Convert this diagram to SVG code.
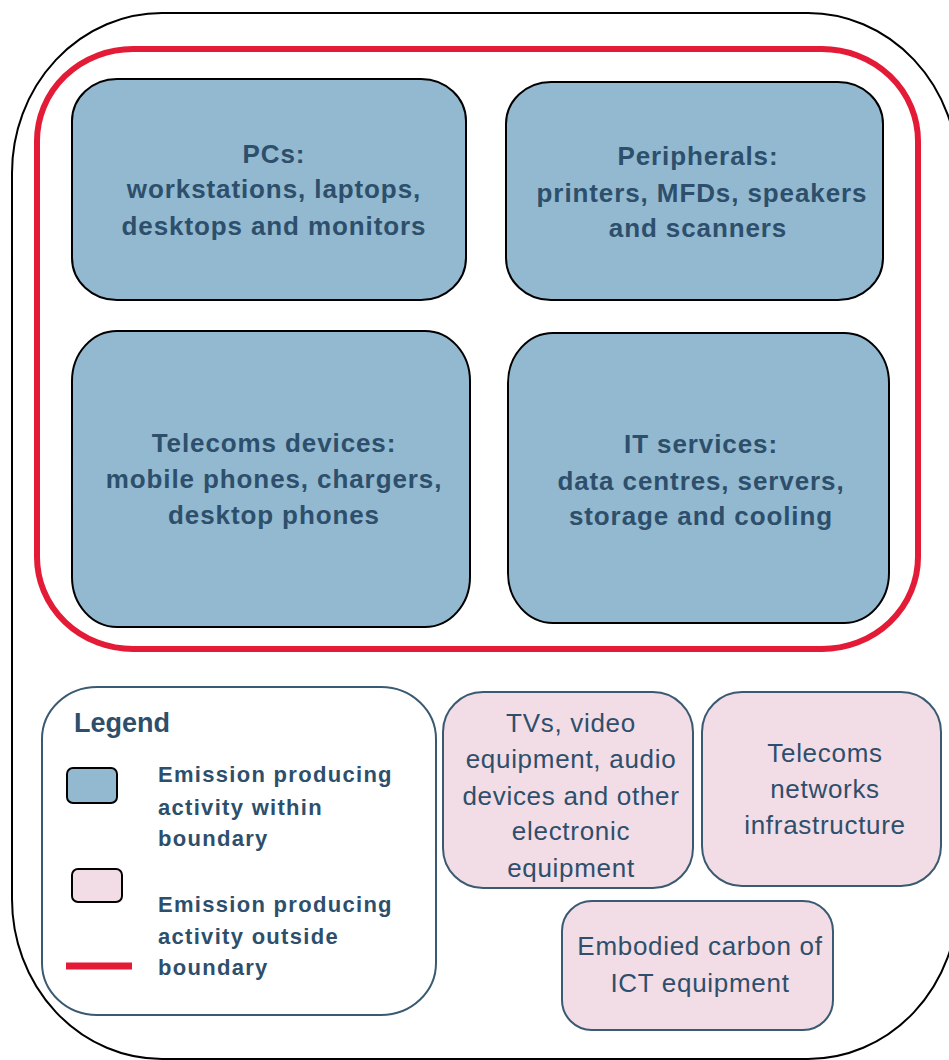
<svg xmlns="http://www.w3.org/2000/svg" width="949" height="1060" viewBox="0 0 949 1060">
<style>
.in{fill:#92B9D0;stroke:#000;stroke-width:2}
.out{fill:#F2DCE5;stroke:#3A5A72;stroke-width:2}
.bt{font-family:"Liberation Sans",Arial,sans-serif;font-weight:bold;font-size:26px;letter-spacing:0.9px;fill:#2E4F6B;text-anchor:middle}
.pt{font-family:"Liberation Sans",Arial,sans-serif;font-size:26px;letter-spacing:0.7px;fill:#2E4F6B;text-anchor:middle}
.lt{font-family:"Liberation Sans",Arial,sans-serif;font-weight:bold;font-size:22px;letter-spacing:1.3px;fill:#2E4F6B}
</style>
<rect id="outer" x="12" y="13" width="946" height="1046" rx="150" ry="160" fill="#fff" stroke="#000" stroke-width="2"/>
<rect id="boundary" x="37" y="49" width="881" height="600" rx="96" ry="92" fill="none" stroke="#E31B37" stroke-width="6"/>
<g id="connectors"></g>
<g id="pcs">
<rect class="in" x="72" y="79" width="394" height="221" rx="45" ry="42"/>
<text class="bt" x="274" y="163">PCs:</text>
<text class="bt" x="274" y="198">workstations, laptops,</text>
<text class="bt" x="274" y="235">desktops and monitors</text>
</g>
<g id="peripherals">
<rect class="in" x="506" y="82" width="377" height="218" rx="45" ry="42"/>
<text class="bt" x="698" y="165">Peripherals:</text>
<text class="bt" x="702" y="202">printers, MFDs, speakers</text>
<text class="bt" x="698" y="237">and scanners</text>
</g>
<g id="telecoms-devices">
<rect class="in" x="72" y="331" width="398" height="296" rx="45" ry="50"/>
<text class="bt" x="274" y="452">Telecoms devices:</text>
<text class="bt" x="274" y="488">mobile phones, chargers,</text>
<text class="bt" x="274" y="524">desktop phones</text>
</g>
<g id="it-services">
<rect class="in" x="508" y="333" width="381" height="290" rx="45" ry="50"/>
<text class="bt" x="701" y="453">IT services:</text>
<text class="bt" x="701" y="490">data centres, servers,</text>
<text class="bt" x="701" y="525">storage and cooling</text>
</g>
<g id="legend">
<rect x="42" y="687" width="394" height="328" rx="55" ry="52" fill="#fff" stroke="#3A5A72" stroke-width="2"/>
<text x="74" y="732" font-family="Liberation Sans, Arial, sans-serif" font-weight="bold" font-size="27" fill="#2E4F6B">Legend</text>
<rect class="in" x="67" y="768" width="50" height="35" rx="6"/>
<text class="lt" x="158" y="782">Emission producing</text>
<text class="lt" x="158" y="815">activity within</text>
<text class="lt" x="158" y="846">boundary</text>
<rect x="72" y="869" width="50" height="33" rx="6" fill="#F2DCE5" stroke="#000" stroke-width="2"/>
<text class="lt" x="158" y="912">Emission producing</text>
<text class="lt" x="158" y="944">activity outside</text>
<text class="lt" x="158" y="975">boundary</text>
<line x1="66" y1="966" x2="132" y2="966" stroke="#E31B37" stroke-width="7"/>
</g>
<g id="tvs">
<rect class="out" x="443" y="692" width="250" height="196" rx="40"/>
<text class="pt" x="571" y="732">TVs, video</text>
<text class="pt" x="571" y="768">equipment, audio</text>
<text class="pt" x="571" y="805">devices and other</text>
<text class="pt" x="571" y="840">electronic</text>
<text class="pt" x="571" y="877">equipment</text>
</g>
<g id="telecoms-networks">
<rect class="out" x="702" y="692" width="239" height="194" rx="40"/>
<text class="pt" x="825" y="762">Telecoms</text>
<text class="pt" x="825" y="798">networks</text>
<text class="pt" x="825" y="834">infrastructure</text>
</g>
<g id="embodied">
<rect class="out" x="562" y="901" width="271" height="129" rx="30"/>
<text class="pt" x="700" y="955">Embodied carbon of</text>
<text class="pt" x="700" y="992">ICT equipment</text>
</g>
</svg>
